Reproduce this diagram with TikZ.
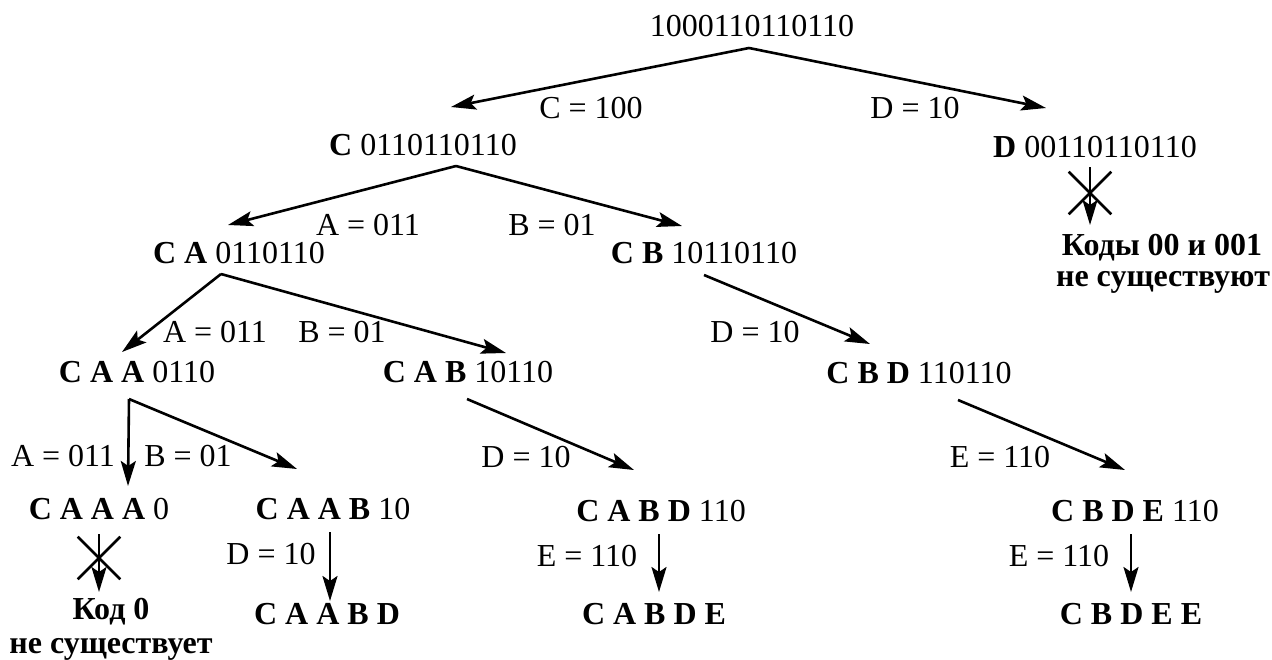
\documentclass[tikz,border=0pt]{standalone}
\usepackage{fontspec}
\setmainfont{Liberation Serif}
\usetikzlibrary{arrows.meta,shapes.misc}

\begin{document}
\begin{tikzpicture}[
    x=0.5pt, y=-0.5pt,
    >={Stealth[length=12.5pt,width=7.5pt,inset=2.5pt]},
    word/.style={
        anchor=base,
        inner sep=0pt,
        font=\fontsize{16}{19}\selectfont
    },
    note/.style={
        word,
        font=\fontsize{16}{19}\selectfont\bfseries
    },
    edge/.style={
        ->,
        line width=1.3pt
    },
    nocode/.style={
        draw,
        cross out,
        line width=1.3pt,
        minimum width=20pt,
        minimum height=20pt
    }
]
\useasboundingbox (0,0) rectangle (1272,659);

\node[word] (root) at (752,36) {1000110110110};

\node[word] (c) at (423,155) {\textbf{C} 0110110110};
\node[word] (d) at (1095,157) {\textbf{D} 00110110110};

\node[word] (ca) at (239,263) {\textbf{C A} 0110110};
\node[word] (cb) at (704,263) {\textbf{C B} 10110110};

\node[word] (caa) at (137,382) {\textbf{C A A} 0110};
\node[word] (cab) at (468,382) {\textbf{C A B} 10110};
\node[word] (cbd) at (919,383) {\textbf{C B D} 110110};

\node[word] (caaa) at (99,519) {\textbf{C A A A} 0};
\node[word] (caab) at (333,519) {\textbf{C A A B} 10};
\node[word] (cabd) at (661,521) {\textbf{C A B D} 110};
\node[word] (cbde) at (1135,521) {\textbf{C B D E} 110};

\node[word] (caabd) at (327,624) {\textbf{C A A B D}};
\node[word] (cabde) at (654,624) {\textbf{C A B D E}};
\node[word] (cbdee) at (1131,624) {\textbf{C B D E E}};

% dead ends
\node[note] (dnote1) at (1162,255) {Коды 00 и 001};
\node[note] (dnote2) at (1163,286) {не существуют};
\node[note] (anote1) at (111,619) {Код 0};
\node[note] (anote2) at (111,653) {не существует};
\node[nocode] (dx) at (1090,193) {};
\node[nocode] (ax) at (99,558) {};

% edge labels
\node[word] (lc) at (591,118) {C = 100};
\node[word] (ld) at (915,118) {D = 10};
\node[word] (la1) at (368,235) {A = 011};
\node[word] (lb1) at (552,235) {B = 01};
\node[word] (la2) at (215,342) {A = 011};
\node[word] (lb2) at (342,342) {B = 01};
\node[word] (ld2) at (755,342) {D = 10};
\node[word] (la3) at (63,466) {A = 011};
\node[word] (lb3) at (188,466) {B = 01};
\node[word] (ld3) at (526,467) {D = 10};
\node[word] (le3) at (1000,467) {E = 110};
\node[word] (ld4) at (271,564) {D = 10};
\node[word] (le4) at (587,566) {E = 110};
\node[word] (le5) at (1059,566) {E = 110};

% forks and arrow ends
\coordinate (rootfork) at (749,48);
\coordinate (cfork) at (456,166);
\coordinate (cafork) at (221,274);
\coordinate (caafork) at (129,399);
\coordinate (cbout) at (704,275);
\coordinate (cabout) at (467,399);
\coordinate (cbdout) at (958,400);
\coordinate (dout) at (1090,167);
\coordinate (caaaout) at (99,534);
\coordinate (caabout) at (330,532);
\coordinate (cabdout) at (659,534);
\coordinate (cbdeout) at (1131,534);

\coordinate (cin) at (451,107);
\coordinate (din) at (1046,108);
\coordinate (cain) at (228,225);
\coordinate (cbin) at (682,226);
\coordinate (caain) at (122,352);
\coordinate (cabin) at (506,353);
\coordinate (cbdin) at (870,344);
\coordinate (caaain) at (128,486);
\coordinate (caabin) at (297,469);
\coordinate (cabdin) at (634,470);
\coordinate (cbdein) at (1125,470);
\coordinate (dend) at (1090,225);
\coordinate (aend) at (99,592);
\coordinate (caabdin) at (330,601);
\coordinate (cabdein) at (659,592);
\coordinate (cbdeein) at (1131,592);

\draw[edge] (rootfork) -- (cin);
\draw[edge] (rootfork) -- (din);
\draw[edge] (cfork) -- (cain);
\draw[edge] (cfork) -- (cbin);
\draw[edge] (cafork) -- (caain);
\draw[edge] (cafork) -- (cabin);
\draw[edge] (cbout) -- (cbdin);
\draw[edge] (caafork) -- (caaain);
\draw[edge] (caafork) -- (caabin);
\draw[edge] (cabout) -- (cabdin);
\draw[edge] (cbdout) -- (cbdein);
\draw[edge] (dout) -- (dend);
\draw[edge] (caaaout) -- (aend);
\draw[edge] (caabout) -- (caabdin);
\draw[edge] (cabdout) -- (cabdein);
\draw[edge] (cbdeout) -- (cbdeein);

\end{tikzpicture}
\end{document}
